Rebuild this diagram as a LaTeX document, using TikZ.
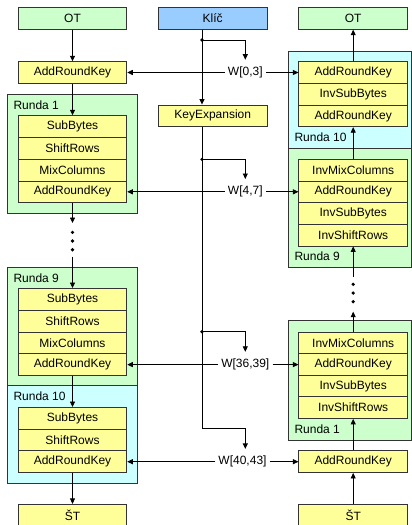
\documentclass[tikz,border=0pt]{standalone}
\usepackage{fontspec}
\setmainfont{Liberation Sans}
\usetikzlibrary{arrows.meta}
\definecolor{cgreen}{HTML}{CCFFCC}
\definecolor{cyel}{HTML}{FFFF99}
\definecolor{ccyan}{HTML}{CCFFFF}
\definecolor{cblue}{HTML}{99CCFF}
\definecolor{cborder}{HTML}{333333}
\begin{document}
\begin{tikzpicture}[x=1pt,y=-1pt,
  every node/.style={font=\fontsize{12}{14}\selectfont},
  box/.style={draw=cborder, line width=0.8pt, fill=cyel, minimum width=108.7pt, minimum height=21.7pt, inner sep=0pt},
  gbox/.style={box, fill=cgreen, minimum height=22pt},
  bbox/.style={box, fill=cblue, minimum height=22pt},
  cont/.style={draw=cborder, line width=0.8pt},
  wlab/.style={inner xsep=3pt, inner ysep=7pt},
  rlab/.style={anchor=west, inner sep=0pt},
  arr/.style={-{Triangle[length=5.5pt,width=5pt]}, line width=0.8pt},
  ln/.style={line width=0.8pt},
  dotc/.style={fill=black}
]
\useasboundingbox (0,0) rectangle (412,525);
% containers
\draw[cont, fill=cgreen] (7.3,94.3) rectangle (137,213.3);
\draw[cont, fill=cgreen] (7.3,267.3) rectangle (137,385.7);
\draw[cont, fill=ccyan] (7.3,385.7) rectangle (137,483.3);
\draw[cont, fill=ccyan] (288.3,51) rectangle (411.3,148.3);
\draw[cont, fill=cgreen] (288.3,148.3) rectangle (411.3,267.3);
\draw[cont, fill=cgreen] (288.3,320.7) rectangle (411.3,440);
% round labels
\node[rlab] (l1) at (13.3,105.5) {Runda 1};
\node[rlab] (l9) at (13.3,278) {Runda 9};
\node[rlab] (l10) at (13.3,396.5) {Runda 10};
\node[rlab] (r10l) at (294.3,137) {Runda 10};
\node[rlab] (r9l) at (294.3,256.3) {Runda 9};
\node[rlab] (r1l) at (294.3,429.3) {Runda 1};
% left column
\node[gbox] (otl) at (72.5,18.3) {OT};
\node[box] (ark0) at (72.5,72.5) {AddRoundKey};
\node[box] (r1sb) at (72.5,126.5) {SubBytes};
\node[box] (r1sr) at (72.5,148.3) {ShiftRows};
\node[box] (r1mc) at (72.5,170.1) {MixColumns};
\node[box] (r1ark) at (72.5,191.8) {AddRoundKey};
\node[box] (r9sb) at (72.5,299.3) {SubBytes};
\node[box] (r9sr) at (72.5,321.1) {ShiftRows};
\node[box] (r9mc) at (72.5,342.9) {MixColumns};
\node[box] (r9ark) at (72.5,364.6) {AddRoundKey};
\node[box] (r10sb) at (72.5,418.3) {SubBytes};
\node[box] (r10sr) at (72.5,440.0) {ShiftRows};
\node[box] (r10ark) at (72.5,461.7) {AddRoundKey};
\node[box, minimum height=23pt] (stl) at (72.5,515.8) {ŠT};
% key column
\node[bbox] (klic) at (212.7,18.3) {Klíč};
\node[box] (kexp) at (212.7,115.8) {KeyExpansion};
% right column
\node[gbox] (otr) at (353.2,18.3) {OT};
\node[box] (q10a) at (353.2,72.5) {AddRoundKey};
\node[box] (q10s) at (353.2,94.2) {InvSubBytes};
\node[box] (q10b) at (353.2,115.9) {AddRoundKey};
\node[box] (q9m) at (353.2,170.1) {InvMixColumns};
\node[box] (q9a) at (353.2,191.8) {AddRoundKey};
\node[box] (q9s) at (353.2,213.5) {InvSubBytes};
\node[box] (q9r) at (353.2,235.2) {InvShiftRows};
\node[box] (q1m) at (353.2,343.1) {InvMixColumns};
\node[box] (q1a) at (353.2,364.6) {AddRoundKey};
\node[box] (q1s) at (353.2,386.0) {InvSubBytes};
\node[box] (q1r) at (353.2,407.6) {InvShiftRows};
\node[box] (q0a) at (353.2,461.7) {AddRoundKey};
\node[box, minimum height=23pt] (str) at (353.2,515.8) {ŠT};
% W labels
\node[wlab] (w03) at (245.3,72.5) {W[0,3]};
\node[wlab] (w47) at (245.3,191.8) {W[4,7]};
\node[wlab] (w3639) at (245.3,364.6) {W[36,39]};
\node[wlab] (w4043) at (242.5,461.7) {W[40,43]};
% coordinates
\coordinate (d0) at (202,40);
\coordinate (d1) at (202,159.3);
\coordinate (d2) at (202,331.7);
\coordinate (kb) at (202,428.7);
\coordinate (bx) at (245.3,0);
\coordinate (la) at (72.5,223);
\coordinate (lb) at (72.5,256.7);
\coordinate (ra) at (353.2,276.7);
\coordinate (rb) at (353.2,311.7);
% key lines
\draw[arr] (klic.south -| d0) -- (kexp.north -| d0);
\draw[ln] (kexp.south -| d0) -- (kb);
\draw[arr] (kb) -| (w4043.north -| bx);
\draw[arr] (d0) -| (w03.north);
\draw[arr] (d1) -| (w47.north);
\draw[arr] (d2) -| (w3639.north);
\fill[dotc] (d0) circle (1.8);
\fill[dotc] (d1) circle (1.8);
\fill[dotc] (d2) circle (1.8);
% W lines
\draw[arr] (w03.west) -- (ark0.east);
\draw[arr] (w03.east) -- (q10a.west);
\draw[arr] (w47.west) -- (r1ark.east);
\draw[arr] (w47.east) -- (q9a.west);
\draw[arr] (w3639.west) -- (r9ark.east);
\draw[arr] (w3639.east) -- (q1a.west);
\draw[arr] (w4043.west) -- (r10ark.east);
\draw[arr] (w4043.east) -- (q0a.west);
% left vertical flow
\draw[arr] (otl.south) -- (ark0.north);
\draw[arr] (ark0.south) -- (r1sb.north);
\draw[arr] (r1ark.south) -- (la);
\fill[dotc] (72.5,232.3) circle (1.8);
\fill[dotc] (72.5,241) circle (1.8);
\fill[dotc] (72.5,249.7) circle (1.8);
\draw[arr] (lb) -- (r9sb.north);
\draw[arr] (r9ark.south) -- (r10sb.north);
\draw[arr] (r10ark.south) -- (stl.north);
% right vertical flow
\draw[arr] (q10a.north) -- (otr.south);
\draw[arr] (q9m.north) -- (q10b.south);
\draw[arr] (ra) -- (q9r.south);
\fill[dotc] (353.2,284.3) circle (1.8);
\fill[dotc] (353.2,293) circle (1.8);
\fill[dotc] (353.2,301.7) circle (1.8);
\draw[arr] (q1m.north) -- (rb);
\draw[arr] (q0a.north) -- (q1r.south);
\draw[arr] (str.north) -- (q0a.south);
\end{tikzpicture}
\end{document}
